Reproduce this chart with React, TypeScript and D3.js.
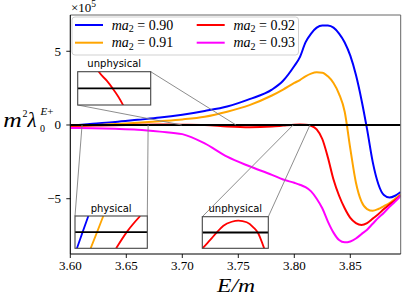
import React from "react";
import * as d3 from "d3";

// energy grid E/m shared by all four curves
const energies = [
  3.6, 3.62, 3.64, 3.66, 3.68, 3.7, 3.72, 3.74, 3.76, 3.78, 3.79, 3.8, 3.805,
  3.81, 3.815, 3.82, 3.825, 3.83, 3.835, 3.84, 3.845, 3.85, 3.855, 3.86,
  3.865, 3.87, 3.875, 3.88, 3.885, 3.89, 3.895,
];

// m^2 lambda_0^{E+} in units of 1e5
const ma090 = [
  -0.05, 0.08, 0.2, 0.35, 0.5, 0.7, 0.95, 1.25, 1.75, 2.4, 3.0, 4.0, 4.6,
  5.6, 6.2, 6.6, 6.75, 6.74, 6.6, 6.2, 5.6, 4.7, 3.4, 1.7, -0.3, -2.5, -4.0,
  -4.75, -4.92, -4.8, -4.55,
];
const ma091 = [
  -0.08, -0.02, 0.06, 0.15, 0.26, 0.38, 0.56, 0.9, 1.35, 2.0, 2.4, 2.85,
  3.05, 3.3, 3.48, 3.57, 3.55, 3.3, 2.85, 2.1, 0.9, -1.6, -3.9, -5.2, -5.7,
  -5.82, -5.7, -5.5, -5.3, -5.0, -4.7,
];
const ma092 = [
  -0.05, -0.04, -0.02, 0.01, 0.03, 0.02, 0.0, -0.1, -0.15, -0.1, -0.04, 0.02,
  0.03, 0.02, -0.05, -0.3, -0.95, -2.2, -3.7, -4.8, -5.65, -6.3, -6.65,
  -6.78, -6.65, -6.35, -6.05, -5.7, -5.4, -5.1, -4.78,
];
const ma093 = [
  -0.2, -0.22, -0.26, -0.32, -0.45, -0.62, -1.25, -2.15, -2.8, -3.38, -3.7,
  -3.92, -4.05, -4.22, -4.5, -5.0, -5.65, -6.55, -7.3, -7.8, -7.96, -7.9,
  -7.7, -7.4, -7.1, -6.7, -6.3, -5.95, -5.55, -5.2, -4.8,
];

const seriesLabels = ["0.90", "0.91", "0.92", "0.93"];
const seriesColors = ["#0000ff", "#ffa500", "#ff0000", "#ff00ff"];
const seriesValues = [ma090, ma091, ma092, ma093];

const xTicks = [3.6, 3.65, 3.7, 3.75, 3.8, 3.85];
const yTicks = [-5, 0, 5];

// inset zoom windows (E/m) and zoomed curves
const insetPhysRange = [3.6105, 3.6695];
const physBlueE = [3.6121, 3.6167, 3.6214];
const physBlueV = [-0.02, 0, 0.02];
const physOrangeE = [3.6233, 3.6285, 3.6336];
const physOrangeV = [-0.02, 0, 0.02];
const physRedE = [3.6441, 3.6527, 3.6637];
const physRedV = [-0.02, 0, 0.02];

const insetUnphys1Range = [3.6995, 3.748];
const unphys1RedE = [3.713, 3.7138, 3.7188, 3.7227, 3.7265, 3.7294, 3.7302];
const unphys1RedV = [0.0215, 0.0192, 0.0092, 0, -0.01, -0.0192, -0.022];

const insetUnphys2Range = [3.799, 3.814];
const unphys2RedE = [
  3.7985, 3.7992, 3.8008, 3.8023, 3.8038, 3.8057, 3.8072, 3.8091, 3.8106,
  3.8117, 3.8125, 3.813, 3.8133,
];
const unphys2RedV = [
  -0.024, -0.0192, -0.0094, 0.0002, 0.0086, 0.0136, 0.015, 0.013, 0.0066,
  -0.001, -0.0116, -0.0192, -0.024,
];

const W = 407;
const H = 300;
const plot = { left: 70.3, right: 400.7, top: 15, bottom: 254 };

const serif = "'Liberation Serif', 'DejaVu Serif', serif";
const sans = "'DejaVu Sans', sans-serif";

type Curve = { e: number[]; v: number[]; color: string };

function Inset({
  id,
  x0,
  y0,
  w,
  h,
  range,
  curves,
  title,
}: {
  id: string;
  x0: number;
  y0: number;
  w: number;
  h: number;
  range: number[];
  curves: Curve[];
  title: string;
}) {
  const ix = d3.scaleLinear().domain(range).range([x0, x0 + w]);
  const iy = d3.scaleLinear().domain([-0.02, 0.02]).range([y0 + h, y0]);
  const line = d3
    .line<[number, number]>()
    .x((d) => ix(d[0]))
    .y((d) => iy(d[1]))
    .curve(d3.curveMonotoneX);
  return (
    <g>
      <clipPath id={id}>
        <rect x={x0} y={y0} width={w} height={h} />
      </clipPath>
      <rect x={x0} y={y0} width={w} height={h} fill="#fff" />
      <g clipPath={`url(#${id})`}>
        {curves.map((c, i) => (
          <path
            key={i}
            d={line(c.e.map((e, j) => [e, c.v[j]] as [number, number])) || ""}
            fill="none"
            stroke={c.color}
            strokeWidth={1.8}
          />
        ))}
        <line x1={x0} x2={x0 + w} y1={iy(0)} y2={iy(0)} stroke="#000" strokeWidth={1.8} />
      </g>
      <rect x={x0} y={y0} width={w} height={h} fill="none" stroke="#444" strokeWidth={1.1} />
      <text
        x={x0 + w / 2}
        y={y0 - 4.5}
        textAnchor="middle"
        fontFamily={sans}
        fontSize={10}
        fill="#000"
      >
        {title}
      </text>
    </g>
  );
}

export default function App() {
  const x = d3.scaleLinear().domain([3.6, 3.895]).range([plot.left, plot.right]);
  const y = d3.scaleLinear().domain([-8.75, 7.46]).range([plot.bottom, plot.top]);

  const line = d3
    .line<[number, number]>()
    .x((d) => x(d[0]))
    .y((d) => y(d[1]))
    .curve(d3.curveMonotoneX);

  const y0 = y(0);

  // inset boxes (pixel layout)
  const in1 = { x0: 77.7, y0: 71.7, w: 73, h: 33.3 };
  const in2 = { x0: 75, y0: 216, w: 72.3, h: 32.3 };
  const in3 = { x0: 202.3, y0: 216.7, w: 66, h: 31.6 };

  const connectors = [
    [in1.x0 + in1.w, in1.y0, x(insetUnphys1Range[1]), y0],
    [in1.x0, in1.y0 + in1.h, x(insetUnphys1Range[0]), y0],
    [in2.x0, in2.y0, x(insetPhysRange[0]), y0],
    [in2.x0 + in2.w, in2.y0, x(insetPhysRange[1]), y0],
    [in3.x0, in3.y0, x(insetUnphys2Range[0]), y0],
    [in3.x0 + in3.w, in3.y0, x(insetUnphys2Range[1]), y0],
  ];

  const fmt = d3.format(".2f");

  return (
    <svg
      width={W}
      height={H}
      style={{ position: "absolute", left: 0, top: 0, background: "#fff" }}
    >
      <defs>
        <clipPath id="plotClip">
          <rect x={plot.left} y={plot.top} width={plot.right - plot.left} height={plot.bottom - plot.top} />
        </clipPath>
      </defs>

      <g clipPath="url(#plotClip)">
        {seriesValues.map((vals, i) => (
          <path
            key={i}
            d={line(energies.map((e, j) => [e, vals[j]] as [number, number])) || ""}
            fill="none"
            stroke={seriesColors[i]}
            strokeWidth={2}
          />
        ))}
        <line x1={plot.left} x2={plot.right} y1={y0} y2={y0} stroke="#000" strokeWidth={2} />
        {connectors.map((c, i) => (
          <line key={i} x1={c[0]} y1={c[1]} x2={c[2]} y2={c[3]} stroke="#808080" strokeWidth={0.9} />
        ))}
      </g>

      {/* spines */}
      <line x1={plot.left} x2={plot.right} y1={plot.top} y2={plot.top} stroke="#666" strokeWidth={1} />
      <line x1={plot.right} x2={plot.right} y1={plot.top} y2={plot.bottom} stroke="#666" strokeWidth={1} />
      <line x1={plot.left} x2={plot.left} y1={plot.top} y2={plot.bottom} stroke="#000" strokeWidth={1.1} />
      <line x1={plot.left} x2={plot.right} y1={plot.bottom} y2={plot.bottom} stroke="#000" strokeWidth={1.1} />

      {/* x ticks */}
      {xTicks.map((t) => (
        <g key={t}>
          <line x1={x(t)} x2={x(t)} y1={plot.bottom} y2={plot.bottom + 4} stroke="#000" strokeWidth={0.9} />
          <text x={x(t)} y={270} textAnchor="middle" fontFamily={serif} fontSize={13} fill="#000">
            {fmt(t)}
          </text>
        </g>
      ))}
      {/* y ticks */}
      {yTicks.map((t) => (
        <g key={t}>
          <line x1={plot.left - 4} x2={plot.left} y1={y(t)} y2={y(t)} stroke="#000" strokeWidth={0.9} />
          <text x={61} y={y(t) + 4.5} textAnchor="end" fontFamily={serif} fontSize={13} fill="#000">
            {t < 0 ? `\u2212${Math.abs(t)}` : `${t}`}
          </text>
        </g>
      ))}

      {/* offset text */}
      <text x={71} y={11.5} fontFamily={serif} fontSize={13} fill="#000">
        ×10
        <tspan dy={-5} fontSize={9.5}>
          5
        </tspan>
      </text>

      {/* y label */}
      <g fontFamily={serif} fill="#000">
        <text x={3.3} y={126.5} fontSize={21} fontStyle="italic" textLength={18.5} lengthAdjust="spacingAndGlyphs">
          m
        </text>
        <text x={22.6} y={117} fontSize={10}>
          2
        </text>
        <text x={27.5} y={126.5} fontSize={21} fontStyle="italic">
          λ
        </text>
        <text x={40} y={131.5} fontSize={10}>
          0
        </text>
        <text x={40.5} y={114.5} fontSize={11} fontStyle="italic">
          E
          <tspan fontStyle="normal">+</tspan>
        </text>
      </g>

      {/* x label */}
      <text
        x={217}
        y={291.5}
        fontFamily={serif}
        fontSize={18}
        fontStyle="italic"
        fill="#000"
        textLength={38}
        lengthAdjust="spacingAndGlyphs"
      >
        E/m
      </text>

      {/* legend */}
      <rect x={72} y={17} width={226.5} height={38} rx={3} fill="#fff" fillOpacity={0.8} stroke="#ccc" strokeWidth={0.9} />
      {seriesLabels.map((lab, i) => {
        const col = Math.floor(i / 2);
        const row = i % 2;
        const lx = col === 0 ? 75 : 196.7;
        const ly = row === 0 ? 25 : 42.7;
        return (
          <g key={lab}>
            <line x1={lx} x2={lx + 28} y1={ly} y2={ly} stroke={seriesColors[i]} strokeWidth={2} />
            <text x={lx + 36.7} y={ly + 4.5} fontFamily={serif} fontSize={14} fill="#000">
              <tspan fontStyle="italic">ma</tspan>
              <tspan fontSize={10} dy={2.5}>
                2
              </tspan>
              <tspan dy={-2.5}>{` = ${lab}`}</tspan>
            </text>
          </g>
        );
      })}

      {/* insets */}
      <Inset
        id="in1"
        {...in1}
        range={insetUnphys1Range}
        title="unphysical"
        curves={[{ e: unphys1RedE, v: unphys1RedV, color: seriesColors[2] }]}
      />
      <Inset
        id="in2"
        {...in2}
        range={insetPhysRange}
        title="physical"
        curves={[
          { e: physBlueE, v: physBlueV, color: seriesColors[0] },
          { e: physOrangeE, v: physOrangeV, color: seriesColors[1] },
          { e: physRedE, v: physRedV, color: seriesColors[2] },
        ]}
      />
      <Inset
        id="in3"
        {...in3}
        range={insetUnphys2Range}
        title="unphysical"
        curves={[{ e: unphys2RedE, v: unphys2RedV, color: seriesColors[2] }]}
      />
    </svg>
  );
}
